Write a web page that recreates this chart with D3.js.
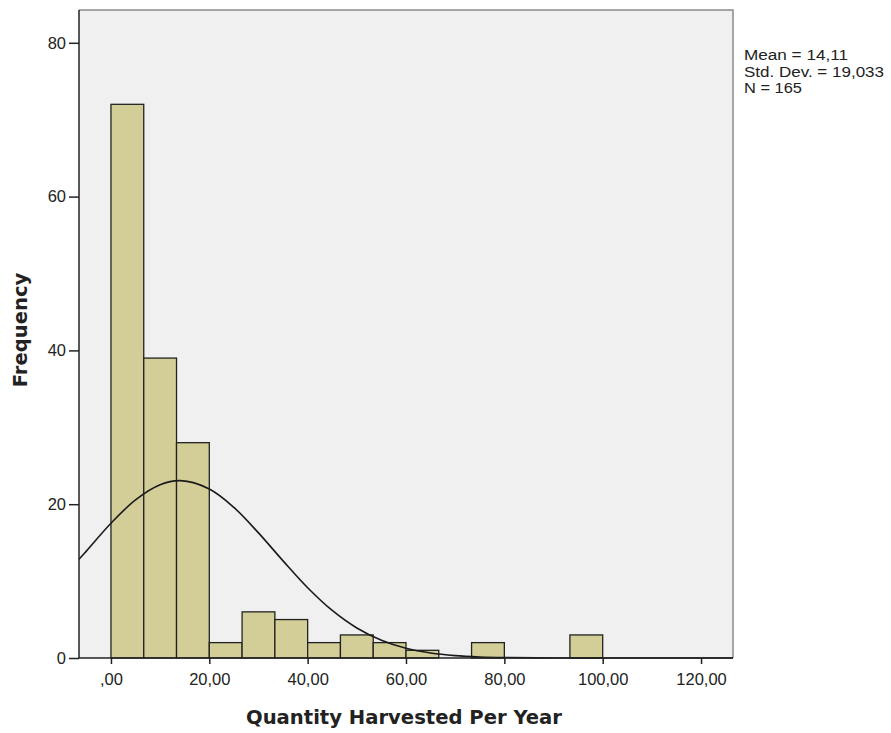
<!DOCTYPE html>
<html><head><meta charset="utf-8">
<script src="https://cdn.jsdelivr.net/npm/d3@7"></script>
<style>body{margin:0;background:#fff}svg{display:block}text{font-family:"Liberation Sans",Arial,sans-serif}</style>
</head><body><svg id="c" width="891" height="733"></svg>
<script>
const binEdgesStart = [0,6.667,13.333,20,26.667,33.333,40,46.667,53.333,60,66.667,73.333,80,86.667,93.333];
const binWidth = 6.667;
const counts = [72,39,28,2,6,5,2,3,2,1,0,2,0,0,3];
const xTicks = [0,20,40,60,80,100,120];
const xTickLabels = [",00","20,00","40,00","60,00","80,00","100,00","120,00"];
const yTicks = [0,20,40,60,80];
const statsLines = ["Mean = 14,11","Std. Dev. = 19,033","N = 165"];
const curveX = [-6.5,-5,0,5,10,14.11,20,25,30,35,40,45,50,55,60,65,70,75,80,90,100,110,120,126.5];
const curveY = [12.83,13.9,17.52,20.57,22.53,23.06,21.98,19.58,16.27,12.63,9.14,6.18,3.90,2.30,1.26,0.646,0.309,0.138,0.058,0.008,0,0,0,0];

const svg = d3.select("#c");
const L=79,T=10,R=733,B=658;
const x = d3.scaleLinear().domain([-6.5,126.5]).range([L,R]);
const y = d3.scaleLinear().domain([0,80]).range([B,B-4*153.8]);

svg.append("rect").attr("x",L).attr("y",T).attr("width",R-L).attr("height",B-T).attr("fill","#f0f0f0");
svg.append("path").attr("d",`M${L},${T}H${R}V${B}`).attr("fill","none").attr("stroke","#8a8a8a").attr("stroke-width",1.5);

const bars = svg.append("g");
counts.forEach((c,i)=>{
  if(c<=0) return;
  bars.append("rect").attr("x",x(binEdgesStart[i])).attr("y",y(c))
    .attr("width",x(binEdgesStart[i]+binWidth)-x(binEdgesStart[i])).attr("height",y(0)-y(c))
    .attr("fill","#d3ce97").attr("stroke","#222").attr("stroke-width",1.3);
});

const line = d3.line().x((d,i)=>x(curveX[i])).y(d=>y(d)).curve(d3.curveCatmullRom);
svg.append("path").datum(curveY).attr("d",line).attr("fill","none").attr("stroke","#1a1a1a").attr("stroke-width",1.6);

const yAxis = svg.append("g").attr("transform",`translate(${L},0)`)
  .call(d3.axisLeft(y).tickValues(yTicks).tickSize(10).tickPadding(3).tickFormat(d3.format("d")));
const xAxis = svg.append("g").attr("transform",`translate(0,${B})`)
  .call(d3.axisBottom(x).tickValues(xTicks).tickSize(6).tickPadding(9).tickFormat((d,i)=>xTickLabels[i]));
[yAxis,xAxis].forEach(g=>{
  g.attr("font-size",null).attr("font-family",null);
  g.select(".domain").attr("stroke","#222").attr("stroke-width",1.5);
  g.selectAll(".tick line").attr("stroke","#222").attr("stroke-width",1.5);
  g.selectAll("text").attr("fill","#222").style("font-size","16.5px").style("font-family","'Liberation Sans',Arial,sans-serif");
});
yAxis.select(".domain").attr("d",`M0,${T}V${B}`);
xAxis.select(".domain").attr("d",`M${L},0H${R}`);

svg.append("text").attr("transform","translate(27,330) rotate(-90)").attr("text-anchor","middle")
  .style("font-family","'DejaVu Sans',Verdana,sans-serif").attr("font-weight","bold").attr("font-size","19.6px").attr("fill","#222").text("Frequency");
svg.append("text").attr("x",404).attr("y",724).attr("text-anchor","middle")
  .style("font-family","'DejaVu Sans',Verdana,sans-serif").attr("font-weight","bold").attr("font-size","19.6px").attr("fill","#222").text("Quantity Harvested Per Year");

const statsW = [104,140,58];
svg.append("g").selectAll("text").data(statsLines).join("text")
  .attr("x",744).attr("y",(d,i)=>60+i*16.5).attr("font-size","15.5px").attr("fill","#222")
  .attr("textLength",(d,i)=>statsW[i]).attr("lengthAdjust","spacingAndGlyphs").text(d=>d);
</script></body></html>
